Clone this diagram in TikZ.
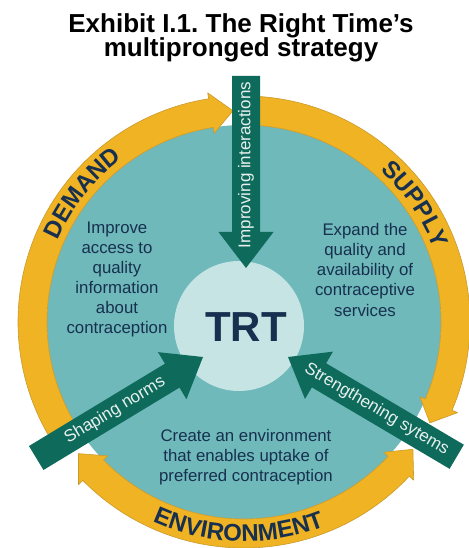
\documentclass[tikz,border=0pt]{standalone}
\usepackage{fontspec}
\setmainfont{Liberation Sans}
\usepackage{tikz}
\usetikzlibrary{decorations.text}
\frenchspacing

\definecolor{gold}{HTML}{F0B323}
\definecolor{goldedge}{HTML}{C99A2E}
\definecolor{discteal}{HTML}{6FB9BA}
\definecolor{hubblue}{HTML}{C6E4E4}
\definecolor{prong}{HTML}{0E6B5B}
\definecolor{navy}{HTML}{17304F}

\tikzstyle{band} = [fill=gold, draw=goldedge, line width=0.6pt, line join=round]
\tikzstyle{goal} = [align=center, text=navy, inner sep=0pt, font=\fontsize{16.8}{20}\selectfont]
\tikzstyle{pronglabel} = [text=white!90!prong, inner sep=0pt, font=\fontsize{17}{20}\selectfont]
\tikzstyle{heading} = [anchor=base, inner sep=0pt, font=\bfseries\fontsize{26}{26}\selectfont]
\newcommand\ringfont{\bfseries\fontsize{24}{24}\selectfont}

\begin{document}
\begin{tikzpicture}[x=1pt, y=1pt]
\useasboundingbox (0,0) rectangle (468,548);

\node[heading] (title1) at (241,515) {Exhibit I.1. The Right Time’s};
\node[heading] (title2) at (241,491) {multipronged strategy};

% disc and hub
\fill[discteal] (244,226) circle[radius=197pt];
\fill[hubblue] (239,222) circle[radius=65pt];

% the three yellow block arcs round the disc
\begin{scope}[shift={(244,226)}]
\filldraw[band] (213:226pt) arc[start angle=213, end angle=99, radius=226pt]
  -- (99:232pt) -- (93:211.5pt) -- (99:191pt) -- (99:197pt)
  arc[start angle=99, end angle=213, radius=197pt] -- cycle;
\filldraw[band] (88:226pt) arc[start angle=88, end angle=-23, radius=226pt]
  -- (-23:232pt) -- (-28.5:211.5pt) -- (-23:191pt) -- (-23:197pt)
  arc[start angle=-23, end angle=88, radius=197pt] -- cycle;
\filldraw[band] (-43:226pt) arc[start angle=-43, end angle=-135.5, radius=226pt]
  -- (-135.5:232pt) -- (-141.5:211.5pt) -- (-135.5:191pt) -- (-135.5:197pt)
  arc[start angle=-135.5, end angle=-43, radius=197pt]
  -- (-43:191pt) -- (-37:211.5pt) -- (-43:232pt) -- cycle;

\path[decorate, decoration={text along path, text align=center, text color=navy,
  text={|\ringfont|DEMAND}}]
  (181.5:203.5pt) arc[start angle=181.5, end angle=101.5, radius=203.5pt];
\path[decorate, decoration={text along path, text align=center, text color=navy,
  text={|\ringfont|SUPPLY}}]
  (74.5:203.5pt) arc[start angle=74.5, end angle=-5.5, radius=203.5pt];
\path[decorate, decoration={text along path, text align=center, text color=navy,
  text={|\ringfont|ENVIRONMENT}}]
  (-141.5:219.5pt) arc[start angle=-141.5, end angle=-41.5, radius=219.5pt];
\end{scope}

% green prongs, tip at the scope origin, pointing along +x
\coordinate (tipA) at (246,280);
\coordinate (tipB) at (203,191);
\coordinate (tipC) at (288,191);
\begin{scope}[shift={(tipA)}, rotate=-90]
\fill[prong] (0,0) -- (-36,27.5) -- (-36,14) -- (-192,14) -- (-192,-14) -- (-36,-14) -- (-36,-27.5) -- cycle;
\node[pronglabel, rotate=90] (interact) at (-103,0) {Improving interactions};
\end{scope}
\begin{scope}[shift={(tipB)}, rotate=31.2]
\fill[prong] (0,0) -- (-36,27.5) -- (-36,14) -- (-195,14) -- (-195,-14) -- (-36,-14) -- (-36,-27.5) -- cycle;
\node[pronglabel, rotate=31.2] (norms) at (-103,0) {Shaping norms};
\end{scope}
\begin{scope}[shift={(tipC)}, rotate=149.4]
\fill[prong] (0,0) -- (-36,27.5) -- (-36,14) -- (-196,14) -- (-196,-14) -- (-36,-14) -- (-36,-27.5) -- cycle;
\node[pronglabel, rotate=-30.6] (systems) at (-103,0) {Strengthening sytems};
\end{scope}

\node[goal] (demandgoal) at (117,269) {Improve\\access to\\quality\\information\\about\\contraception};
\node[goal] (supplygoal) at (365,278) {Expand the\\quality and\\availability of\\contraceptive\\services};
\node[goal] (envgoal) at (246,91) {Create an environment\\that enables uptake of\\preferred contraception};
\node[text=navy, inner sep=0pt, font=\bfseries\fontsize{42}{42}\selectfont] (trt) at (246,221) {TRT};
\end{tikzpicture}
\end{document}
